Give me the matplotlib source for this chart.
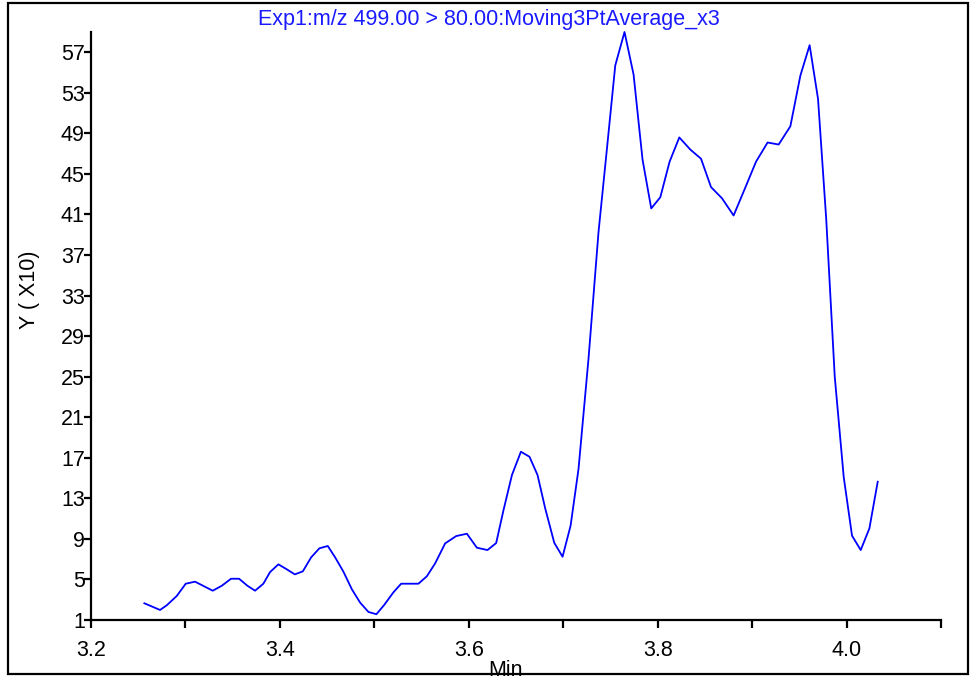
import matplotlib
matplotlib.use("Agg")
import matplotlib.pyplot as plt
from matplotlib.patches import Rectangle
from matplotlib.ticker import MultipleLocator, FuncFormatter

plt.rcParams['font.family'] = ['Liberation Sans', 'DejaVu Sans']

title = "Exp1:m/z 499.00 > 80.00:Moving3PtAverage_x3"
x_label = "Min"
y_label = "Y ( X10)"

time_min = [3.2565, 3.2731, 3.2802, 3.2908, 3.3003, 3.3102, 3.3289, 3.3385, 3.3483, 3.3568,
            3.3656, 3.3737, 3.3825, 3.3896, 3.3984, 3.4073, 3.4158, 3.4243, 3.4331, 3.4418,
            3.4507, 3.4585, 3.4673, 3.4762, 3.4850, 3.4938, 3.5022, 3.5104, 3.5202, 3.5284,
            3.5467, 3.5556, 3.5644, 3.5750, 3.5867, 3.5980, 3.6086, 3.6198, 3.6290, 3.6368,
            3.6457, 3.6552, 3.6643, 3.6728, 3.6809, 3.6905, 3.6993, 3.7078, 3.7162, 3.7268,
            3.7374, 3.7463, 3.7551, 3.7649, 3.7745, 3.7840, 3.7932, 3.8028, 3.8126, 3.8229,
            3.8346, 3.8459, 3.8565, 3.8681, 3.8804, 3.8921, 3.9041, 3.9164, 3.9281, 3.9405,
            3.9511, 3.9609, 3.9698, 3.9785, 3.9875, 3.9970, 4.0058, 4.0150, 4.0242, 4.0330]
intensity = [2.65, 1.99, 2.45, 3.37, 4.58, 4.78, 3.89, 4.38, 5.07, 5.07,
             4.38, 3.89, 4.58, 5.73, 6.49, 6.00, 5.50, 5.80, 7.18, 8.07,
             8.30, 7.18, 5.76, 4.03, 2.71, 1.79, 1.57, 2.48, 3.73, 4.58,
             4.58, 5.31, 6.59, 8.56, 9.28, 9.51, 8.13, 7.90, 8.59, 11.85,
             15.30, 17.60, 17.10, 15.30, 12.02, 8.62, 7.24, 10.30, 15.90, 26.80,
             39.30, 47.50, 55.70, 59.00, 54.80, 46.40, 41.60, 42.70, 46.20, 48.60,
             47.40, 46.50, 43.70, 42.60, 40.90, 43.50, 46.20, 48.10, 47.90, 49.70,
             54.70, 57.70, 52.40, 40.50, 25.00, 15.10, 9.31, 7.90, 10.04, 14.64]

y_ticks = [1, 5, 9, 13, 17, 21, 25, 29, 33, 37, 41, 45, 49, 53, 57]
x_label_ticks = [3.2, 3.4, 3.6, 3.8, 4.0]

W, H = 971, 677
fig = plt.figure(figsize=(W / 100, H / 100), dpi=100)
ax = fig.add_axes([91 / W, 1 - 620 / H, (941 - 91) / W, (620 - 32) / H])

ax.plot(time_min, intensity, color='#0000ff', lw=1.3, clip_on=False)

ax.set_xlim(3.2, 4.1)
ax.set_ylim(1, 59)
ax.xaxis.set_major_locator(MultipleLocator(0.1))
ax.xaxis.set_major_formatter(FuncFormatter(
    lambda v, p: f"{v:.1f}" if any(abs(v - t) < 1e-6 for t in x_label_ticks) else ""))
ax.set_yticks(y_ticks)
ax.set_yticklabels([str(t) for t in y_ticks])

for s in ['top', 'right']:
    ax.spines[s].set_visible(False)
for s in ['left', 'bottom']:
    ax.spines[s].set_linewidth(1.6)

fs = 15.5
ax.tick_params(axis='x', direction='out', length=6, width=1.6, pad=8.5, labelsize=fs)
ax.tick_params(axis='y', direction='out', length=5, width=1.6, pad=-0.5, labelsize=fs)

fig.text(489 / W, 1 - 19 / H, title, color='#1a1aff', fontsize=fs, ha='center', va='center')
fig.text(30 / W, 1 - 290 / H, y_label, rotation=90, fontsize=fs, ha='center', va='center')
fig.text(505 / W, 1 - 670 / H, x_label, fontsize=fs, ha='center', va='center')

frame = Rectangle((8 / W, 1 - 674 / H), (968 - 8) / W, (674 - 3) / H, transform=fig.transFigure,
                  fill=False, edgecolor='black', lw=1.6, zorder=10)
fig.patches.append(frame)

fig.savefig("out.png", dpi=100)
